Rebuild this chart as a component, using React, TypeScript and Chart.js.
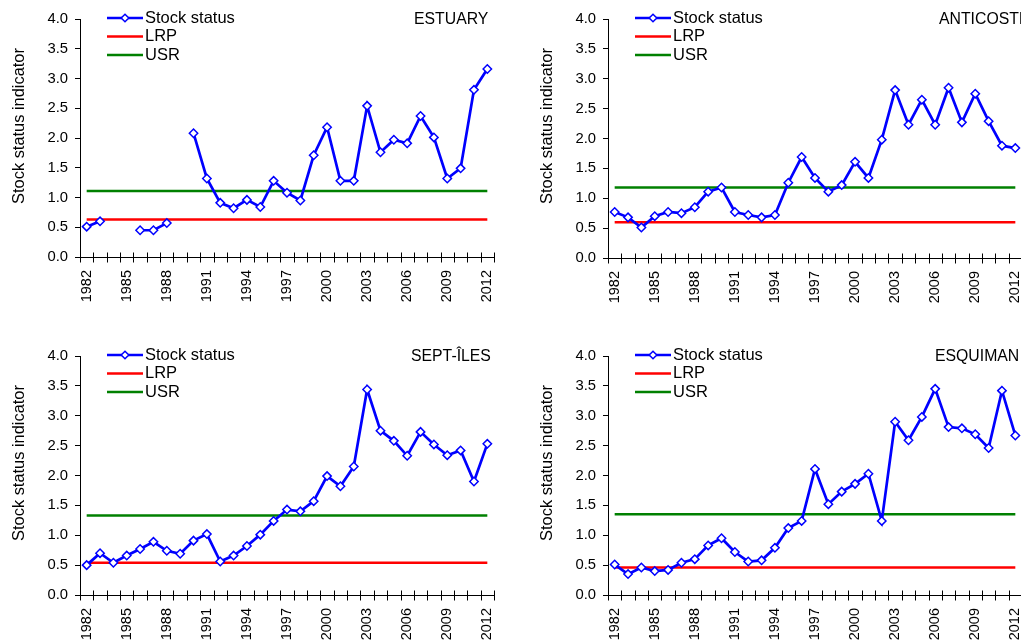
import React, { useEffect, useRef } from "react";
import { Chart, registerables } from "chart.js";

Chart.register(...registerables);

const years = [
  "1982", "1983", "1984", "1985", "1986", "1987", "1988", "1989", "1990", "1991",
  "1992", "1993", "1994", "1995", "1996", "1997", "1998", "1999", "2000", "2001",
  "2002", "2003", "2004", "2005", "2006", "2007", "2008", "2009", "2010", "2011", "2012",
];

const yTicks = [0, 0.5, 1, 1.5, 2, 2.5, 3, 3.5, 4];

const estuaryStock = [
  0.51, 0.60, null, null, 0.45, 0.45, 0.57, null, 2.08, 1.32,
  0.91, 0.82, 0.96, 0.84, 1.28, 1.08, 0.95, 1.71, 2.18, 1.28,
  1.28, 2.54, 1.76, 1.97, 1.91, 2.37, 2.01, 1.32, 1.49, 2.81, 3.16,
];
const estuaryLRP = 0.63;
const estuaryUSR = 1.11;

const anticostiStock = [
  0.77, 0.68, 0.51, 0.70, 0.77, 0.75, 0.85, 1.11, 1.18, 0.77,
  0.72, 0.68, 0.72, 1.26, 1.69, 1.34, 1.11, 1.22, 1.61, 1.34,
  1.98, 2.81, 2.23, 2.65, 2.23, 2.85, 2.27, 2.75, 2.29, 1.88, 1.84,
];
const anticostiLRP = 0.60;
const anticostiUSR = 1.18;

const septIlesStock = [
  0.50, 0.70, 0.54, 0.66, 0.77, 0.89, 0.74, 0.69, 0.91, 1.02,
  0.56, 0.66, 0.82, 1.01, 1.24, 1.43, 1.40, 1.57, 1.99, 1.82,
  2.15, 3.44, 2.75, 2.58, 2.33, 2.73, 2.52, 2.34, 2.42, 1.90, 2.53,
];
const septIlesLRP = 0.54;
const septIlesUSR = 1.33;

const esquimanStock = [
  0.51, 0.35, 0.46, 0.40, 0.42, 0.54, 0.60, 0.83, 0.95, 0.72,
  0.56, 0.58, 0.79, 1.12, 1.24, 2.11, 1.52, 1.73, 1.86, 2.03,
  1.24, 2.90, 2.59, 2.98, 3.45, 2.81, 2.79, 2.69, 2.46, 3.42, 2.67,
];
const esquimanLRP = 0.46;
const esquimanUSR = 1.35;

const FONT = "'Liberation Sans', Arial, Helvetica, sans-serif";

type PanelCfg = {
  label: string;
  stock: (number | null)[];
  lrp: number;
  usr: number;
  left: number;
  top: number;
  width: number;
  height: number;
  padTop: number;
  padRight: number;
  yWidth: number;
  xHeight: number;
  labelX: number;
};

const panels: PanelCfg[] = [
  { label: "ESTUARY", stock: estuaryStock, lrp: estuaryLRP, usr: estuaryUSR,
    left: 0, top: 0, width: 510, height: 330, padTop: 19, padRight: 16, yWidth: 80, xHeight: 73, labelX: 334 },
  { label: "ANTICOSTI", stock: anticostiStock, lrp: anticostiLRP, usr: anticostiUSR,
    left: 510, top: 0, width: 520, height: 330, padTop: 19, padRight: 8, yWidth: 98, xHeight: 72, labelX: 331 },
  { label: "SEPT-ÎLES", stock: septIlesStock, lrp: septIlesLRP, usr: septIlesUSR,
    left: 0, top: 330, width: 510, height: 313, padTop: 26, padRight: 16, yWidth: 80, xHeight: 48, labelX: 331 },
  { label: "ESQUIMAN", stock: esquimanStock, lrp: esquimanLRP, usr: esquimanUSR,
    left: 510, top: 330, width: 520, height: 313, padTop: 26, padRight: 8, yWidth: 98, xHeight: 48, labelX: 327 },
];

function drawDiamond(ctx: CanvasRenderingContext2D, x: number, y: number, r: number) {
  ctx.beginPath();
  ctx.moveTo(x, y - r);
  ctx.lineTo(x + r, y);
  ctx.lineTo(x, y + r);
  ctx.lineTo(x - r, y);
  ctx.closePath();
  ctx.fillStyle = "#ffffff";
  ctx.fill();
  ctx.lineWidth = 1.5;
  ctx.strokeStyle = "#0000ff";
  ctx.stroke();
}

const decorPlugin = {
  id: "panelDecor",
  afterDraw(chart: any, _args: any, opts: any) {
    const { ctx, chartArea, scales } = chart;
    const xs = scales.x;
    ctx.save();
    // x tick marks crossing the axis
    ctx.strokeStyle = "#000";
    ctx.lineWidth = 1;
    const n = chart.data.labels.length;
    const yAxis = Math.round(chartArea.bottom) + 0.5;
    for (let i = 0; i <= n; i++) {
      const px = Math.round(xs.getPixelForValue(i - 0.5)) + 0.5;
      ctx.beginPath();
      ctx.moveTo(px, yAxis - 5);
      ctx.lineTo(px, yAxis + 5);
      ctx.stroke();
    }
    // legend
    const rows = [-1, 17.5, 36];
    ctx.font = `16.5px ${FONT}`;
    ctx.textBaseline = "middle";
    ctx.textAlign = "left";
    chart.data.datasets.forEach((ds: any, i: number) => {
      const yy = chartArea.top + rows[i];
      const x0 = chartArea.left + 27;
      const x1 = chartArea.left + 63;
      ctx.beginPath();
      ctx.strokeStyle = ds.borderColor;
      ctx.lineWidth = ds.borderWidth;
      ctx.moveTo(x0, yy);
      ctx.lineTo(x1, yy);
      ctx.stroke();
      if (ds.pointRadius > 0) drawDiamond(ctx, (x0 + x1) / 2, yy, 3.8);
      ctx.fillStyle = "#000";
      ctx.fillText(ds.label, x1 + 2, yy);
    });
    // panel label
    ctx.font = `15.8px ${FONT}`;
    ctx.fillStyle = "#000";
    ctx.fillText(String(opts.label), chartArea.left + Number(opts.labelX), chartArea.top + 0.5);
    // y title
    ctx.translate(chartArea.left - 61, chartArea.top + 107);
    ctx.rotate(-Math.PI / 2);
    ctx.textAlign = "center";
    ctx.font = `16.4px ${FONT}`;
    ctx.fillText("Stock status indicator", 0, 0);
    ctx.restore();
  },
};

function Panel({ cfg }: { cfg: PanelCfg }) {
  const ref = useRef<HTMLCanvasElement | null>(null);
  useEffect(() => {
    if (!ref.current) return;
    const chart = new Chart(ref.current, {
      type: "line",
      data: {
        labels: years,
        datasets: [
          {
            label: "Stock status",
            data: cfg.stock,
            borderColor: "#0000ff",
            borderWidth: 2.7,
            pointStyle: "rectRot",
            pointRadius: 4.2,
            pointBorderWidth: 1.5,
            pointBackgroundColor: "#ffffff",
            pointBorderColor: "#0000ff",
            spanGaps: false,
            tension: 0,
          },
          {
            label: "LRP",
            data: years.map(() => cfg.lrp),
            borderColor: "#ff0000",
            borderWidth: 2.5,
            pointRadius: 0,
          },
          {
            label: "USR",
            data: years.map(() => cfg.usr),
            borderColor: "#008000",
            borderWidth: 2.5,
            pointRadius: 0,
          },
        ],
      },
      options: {
        animation: false,
        responsive: false,
        devicePixelRatio: 1,
        events: [],
        layout: { padding: { top: cfg.padTop, right: cfg.padRight, left: 0, bottom: 0 } },
        plugins: {
          legend: { display: false },
          tooltip: { enabled: false },
          title: { display: false },
          panelDecor: { label: cfg.label, labelX: cfg.labelX },
        } as any,
        scales: {
          x: {
            type: "category",
            offset: true,
            grid: { display: false, drawTicks: false, tickLength: 0 },
            border: { display: true, color: "#000", width: 1 },
            ticks: {
              autoSkip: false,
              minRotation: 90,
              maxRotation: 90,
              padding: 13,
              color: "#000",
              font: { family: FONT, size: 14.5 },
              callback: (_v: any, idx: number) => (idx % 3 === 0 ? years[idx] : ""),
            },
            afterFit: (s: any) => {
              s.height = cfg.xHeight;
              s.paddingLeft = 0;
              s.paddingRight = 0;
            },
          },
          y: {
            min: 0,
            max: 4,
            afterBuildTicks: (s: any) => { s.ticks = yTicks.map((v) => ({ value: v })); },
            grid: { display: true, drawOnChartArea: false, drawTicks: true, tickLength: 5, color: "#000" },
            border: { display: true, color: "#000", width: 1 },
            ticks: {
              padding: 7,
              color: "#000",
              font: { family: FONT, size: 14.8 },
              callback: (v: any) => Number(v).toFixed(1),
            },
            afterFit: (s: any) => {
              s.width = cfg.yWidth;
              s.paddingTop = 0;
              s.paddingBottom = 0;
            },
          },
        },
      },
      plugins: [decorPlugin],
    });
    return () => chart.destroy();
  }, [cfg]);
  return (
    <canvas
      ref={ref}
      width={cfg.width}
      height={cfg.height}
      style={{ position: "absolute", left: cfg.left, top: cfg.top, width: cfg.width, height: cfg.height }}
    />
  );
}

export default function App() {
  return (
    <div
      style={{
        position: "absolute",
        left: 0,
        top: 0,
        width: 1021,
        height: 643,
        overflow: "hidden",
        background: "#ffffff",
      }}
    >
      {panels.map((p) => (
        <Panel key={p.label} cfg={p} />
      ))}
    </div>
  );
}
